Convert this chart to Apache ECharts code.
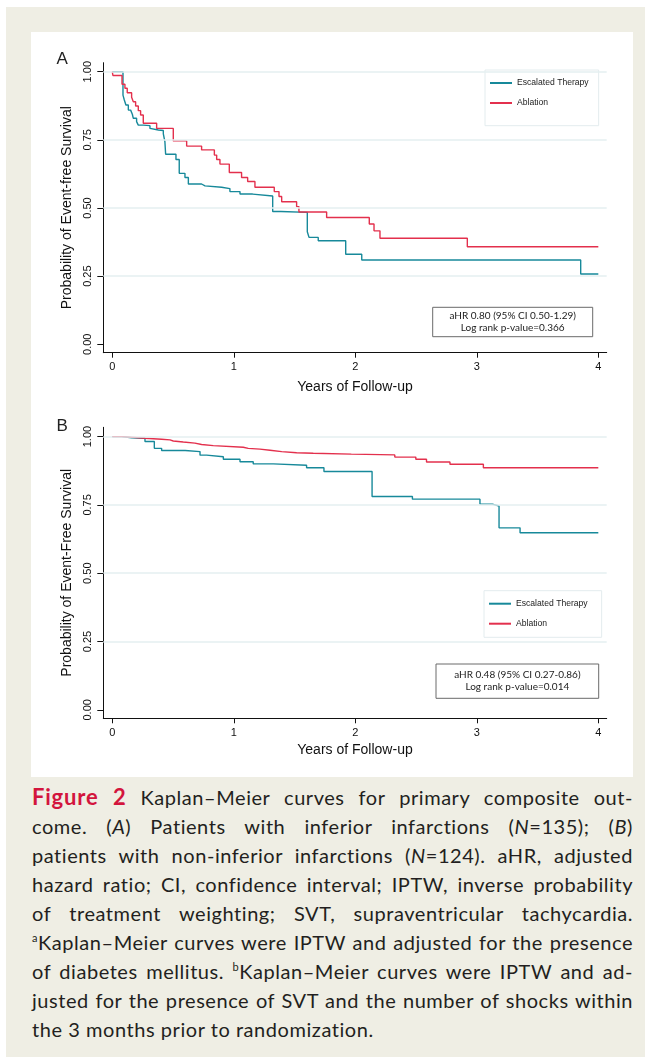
<!DOCTYPE html>
<html><head><meta charset="utf-8">
<script src="https://cdn.jsdelivr.net/npm/echarts@6/dist/echarts.min.js"></script>
<style>
html,body{margin:0;padding:0;background:#fff;width:651px;height:1063px;overflow:hidden;}
#bg{position:absolute;left:6px;top:7px;width:639px;height:1050px;background:#efeee4;}
#chart{position:absolute;left:31px;top:32px;width:602px;height:745px;background:#fff;}
#cap{position:absolute;left:32px;top:782px;width:601px;font-family:Lato,"Open Sans",sans-serif;font-size:20px;letter-spacing:0.55px;word-spacing:-2px;line-height:29px;color:#231f20;}
#cap .l{text-align:justify;text-align-last:justify;white-space:nowrap;}
#cap .last{text-align:left;text-align-last:left;white-space:nowrap;word-spacing:0;}
#cap .fig{font-weight:bold;color:#d3153d;font-size:22px;letter-spacing:0.8px;}
#cap i{font-style:italic;}
#cap sup{font-size:11px;vertical-align:8px;line-height:0;}
</style>
</head><body>
<div id="bg"></div>
<div id="chart"></div>
<div id="cap">
<div class="l"><span class="fig">Figure 2</span> Kaplan–Meier curves for primary composite out-</div>
<div class="l">come. (<i>A</i>) Patients with inferior infarctions (<i>N</i>=135); (<i>B</i>)</div>
<div class="l">patients with non-inferior infarctions (<i>N</i>=124). aHR, adjusted</div>
<div class="l">hazard ratio; CI, confidence interval; IPTW, inverse probability</div>
<div class="l">of treatment weighting; SVT, supraventricular tachycardia.</div>
<div class="l"><sup>a</sup>Kaplan–Meier curves were IPTW and adjusted for the presence</div>
<div class="l">of diabetes mellitus. <sup>b</sup>Kaplan–Meier curves were IPTW and ad-</div>
<div class="l">justed for the presence of SVT and the number of shocks within</div>
<div class="last">the 3 months prior to randomization.</div>
</div>
<script>
// ---- Data ----
const xTicks = [0, 1, 2, 3, 4];
const yTicks = [0, 0.25, 0.5, 0.75, 1];
const gridY = [0.25, 0.5, 0.75, 1];
const seriesNames = ['Escalated Therapy', 'Ablation'];

// Panel A (inferior infarctions)
const aEscT = [0, 0.088, 0.099, 0.112, 0.132, 0.151, 0.165, 0.173, 0.200, 0.214, 0.255, 0.310, 0.324, 0.379, 0.420, 0.433, 0.439, 0.524, 0.551, 0.598, 0.626, 0.735, 0.763, 0.900, 0.968, 1.051, 1.155, 1.320, 1.388, 1.605, 1.619, 1.695, 1.921, 2.053, 3.855, 4.0];
const aEscS = [1, 0.914, 0.896, 0.878, 0.859, 0.853, 0.844, 0.829, 0.817, 0.804, 0.802, 0.792, 0.786, 0.784, 0.772, 0.743, 0.697, 0.678, 0.627, 0.612, 0.588, 0.581, 0.576, 0.571, 0.560, 0.551, 0.544, 0.487, 0.484, 0.413, 0.392, 0.380, 0.330, 0.309, 0.258, 0.258];
const aAblT = [0, 0.005, 0.080, 0.104, 0.123, 0.159, 0.173, 0.192, 0.214, 0.233, 0.255, 0.365, 0.502, 0.612, 0.735, 0.840, 0.859, 0.886, 0.963, 1.064, 1.114, 1.174, 1.333, 1.372, 1.394, 1.517, 1.536, 1.764, 2.115, 2.154, 2.203, 2.922, 4.0];
const aAblS = [1, 0.986, 0.954, 0.939, 0.923, 0.906, 0.890, 0.874, 0.857, 0.841, 0.811, 0.792, 0.746, 0.727, 0.713, 0.694, 0.678, 0.661, 0.630, 0.612, 0.597, 0.576, 0.560, 0.542, 0.523, 0.505, 0.485, 0.465, 0.441, 0.416, 0.389, 0.358, 0.358];

// Panel B (non-inferior infarctions)
const bEscT = [0, 0.077, 0.159, 0.269, 0.346, 0.406, 0.600, 0.722, 0.776, 0.914, 1.051, 1.160, 1.325, 1.599, 1.742, 2.138, 2.470, 3.026, 3.128, 3.183, 3.356, 4.0];
const bEscS = [1, 0.996, 0.994, 0.982, 0.957, 0.949, 0.945, 0.932, 0.926, 0.917, 0.908, 0.900, 0.895, 0.886, 0.872, 0.781, 0.771, 0.753, 0.746, 0.666, 0.648, 0.648];
const bAblT = [0, 0.077, 0.145, 0.269, 0.406, 0.475, 0.502, 0.584, 0.680, 0.735, 0.831, 1.078, 1.119, 1.215, 1.298, 1.394, 1.517, 1.654, 1.967, 2.325, 2.498, 2.586, 2.779, 3.054, 4.0];
const bAblS = [1, 0.998, 0.994, 0.990, 0.988, 0.984, 0.980, 0.976, 0.971, 0.967, 0.961, 0.957, 0.954, 0.950, 0.945, 0.941, 0.939, 0.936, 0.933, 0.925, 0.917, 0.907, 0.899, 0.886, 0.886];

const statsA = ['aHR 0.80 (95% CI 0.50-1.29)', 'Log rank p-value=0.366'];
const statsB = ['aHR 0.48 (95% CI 0.27-0.86)', 'Log rank p-value=0.014'];

// ---- Build ----
const TEAL = '#17899a', RED = '#e3304d', GRID = '#e5eff1';
const zip = (t, s) => t.map((v, i) => [v, s[i]]);
const AX_FONT = 'Liberation Sans';

function xAxis(gi, gap) {
  return {
    type: 'value', gridIndex: gi, min: -0.074, max: 4.069,
    name: 'Years of Follow-up', nameLocation: 'middle', nameGap: gap,
    nameTextStyle: {fontFamily: AX_FONT, fontSize: 14, color: '#111'},
    axisLine: {onZero: false, lineStyle: {color: '#111', width: 1}},
    axisTick: {customValues: xTicks, length: 5, lineStyle: {color: '#111'}},
    axisLabel: {customValues: xTicks, margin: 9, fontFamily: AX_FONT, fontSize: 11, color: '#111'},
    splitLine: {show: false}
  };
}
function yAxis(gi, max, name) {
  return {
    type: 'value', gridIndex: gi, min: -0.031, max: max,
    name: name, nameLocation: 'middle', nameGap: 28,
    nameTextStyle: {fontFamily: AX_FONT, fontSize: 14, color: '#111'},
    axisLine: {onZero: false, lineStyle: {color: '#111', width: 1}},
    axisTick: {customValues: yTicks, length: 6, lineStyle: {color: '#111'}},
    axisLabel: {customValues: yTicks, rotate: 90, margin: 10, fontFamily: AX_FONT, fontSize: 11, color: '#111',
      formatter: v => v.toFixed(2)},
    splitLine: {show: false}
  };
}
function curve(name, data, color, gi) {
  return {
    name: name, type: 'line', step: 'end', xAxisIndex: gi, yAxisIndex: gi,
    data: data, symbol: 'none', showSymbol: false, z: 3,
    lineStyle: {color: color, width: 1.4}, itemStyle: {color: color}
  };
}
function gridSeries(gi) {
  return {
    type: 'line', xAxisIndex: gi, yAxisIndex: gi, data: [], z: 1, silent: true,
    markLine: {silent: true, symbol: 'none', label: {show: false},
      lineStyle: {color: GRID, width: 1.5, type: 'solid'},
      data: gridY.map(v => ({yAxis: v}))}
  };
}
function legend(left, top, pad) {
  return {
    data: seriesNames, orient: 'vertical', left: left, top: top,
    padding: pad, icon: 'rect', itemWidth: 22, itemHeight: 2, itemGap: 8, itemTextGap: 9,
    borderColor: '#e3ecee', borderWidth: 1, backgroundColor: '#fff',
    selectedMode: false,
    textStyle: {fontFamily: AX_FONT, fontSize: 8.6, lineHeight: 12, color: '#222'}
  };
}
function statBox(x, y, w, h, lines) {
  return {
    type: 'group', children: [
      {type: 'rect', shape: {x: x, y: y, width: w, height: h},
        style: {fill: '#fff', stroke: '#6a6a6a', lineWidth: 1}},
      {type: 'text', x: x + w / 2, y: y + h / 2,
        style: {text: lines.join('\n'), fontFamily: 'Lato', fontSize: 10, lineHeight: 12,
          fill: '#222', align: 'center', verticalAlign: 'middle'}}
    ]
  };
}

const chart = echarts.init(document.getElementById('chart'));
chart.setOption({
  animation: false,
  backgroundColor: '#fff',
  grid: [
    {left: 72.3, top: 30.7, width: 503.4, height: 290},
    {left: 72.3, top: 395.3, width: 503.4, height: 291}
  ],
  xAxis: [xAxis(0, 27), xAxis(1, 24.5)],
  yAxis: [yAxis(0, 1.033, 'Probability of Event-free Survival'), yAxis(1, 1.034, 'Probability of Event-Free Survival')],
  legend: [legend(454, 38, [7, 10, 16.7, 5]), legend(453, 558.7, [7, 14, 7.6, 5])],
  series: [
    gridSeries(0), gridSeries(1),
    curve(seriesNames[0], zip(aEscT, aEscS), TEAL, 0),
    curve(seriesNames[1], zip(aAblT, aAblS), RED, 0),
    curve(seriesNames[0], zip(bEscT, bEscS), TEAL, 1),
    curve(seriesNames[1], zip(bAblT, bAblS), RED, 1)
  ],
  graphic: [
    {type: 'text', x: 25.5, y: 27, style: {text: 'A', fontFamily: AX_FONT, fontSize: 17, fill: '#222', verticalAlign: 'middle'}},
    {type: 'text', x: 25.5, y: 394, style: {text: 'B', fontFamily: AX_FONT, fontSize: 17, fill: '#222', verticalAlign: 'middle'}},
    statBox(401.7, 275.3, 160, 29.4, statsA),
    statBox(405, 632, 162.7, 34.3, statsB)
  ]
});
</script>
</body></html>
